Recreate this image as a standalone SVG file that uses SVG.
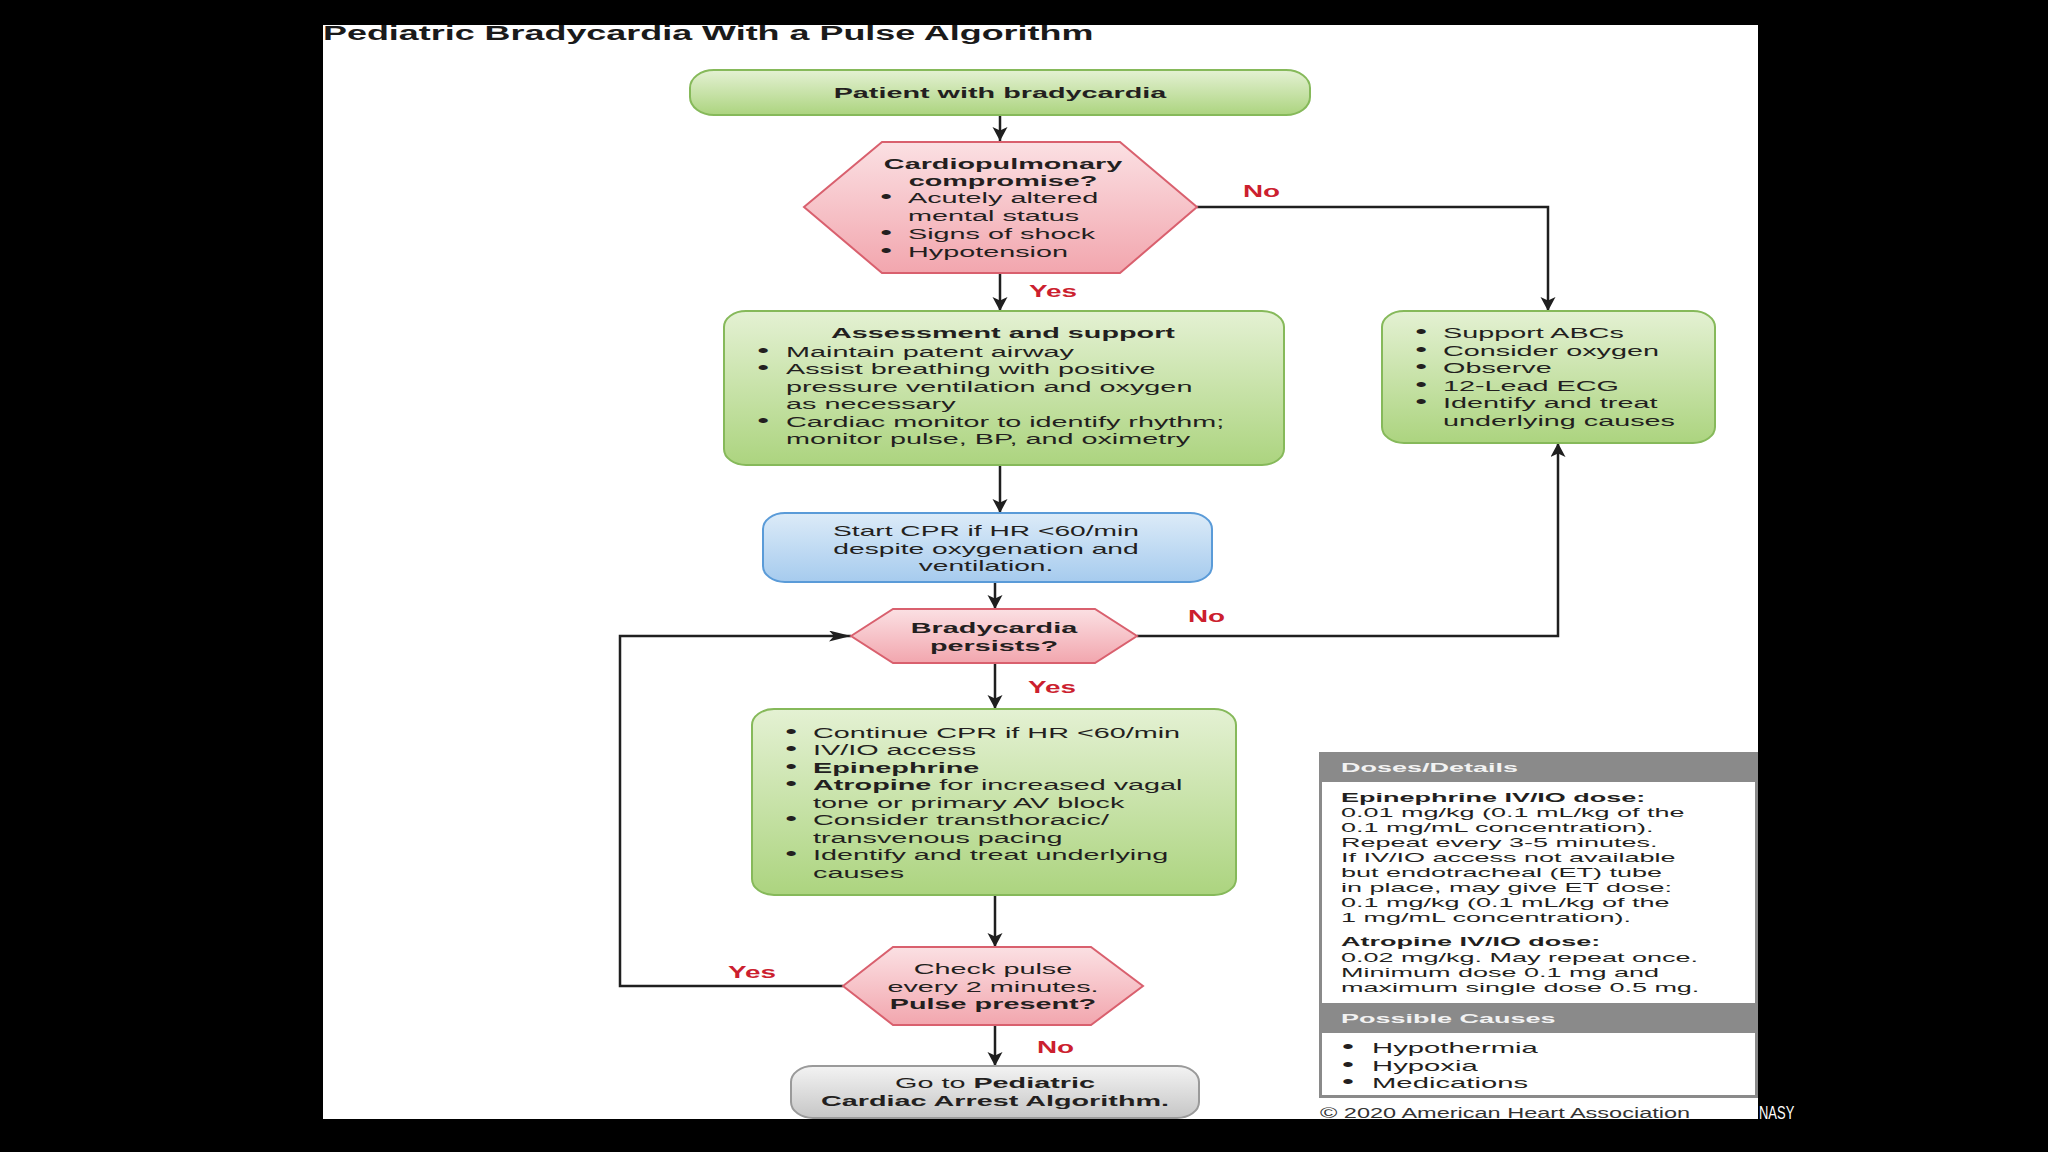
<svg xmlns="http://www.w3.org/2000/svg" width="2048" height="1152" viewBox="0 0 2048 1152">
<defs>
<linearGradient id="gGreen" x1="0" y1="0" x2="0" y2="1"><stop offset="0" stop-color="#e4f1d3"/><stop offset="1" stop-color="#acd47f"/></linearGradient>
<linearGradient id="gPink" x1="0" y1="0" x2="0" y2="1"><stop offset="0" stop-color="#fbe0e3"/><stop offset="1" stop-color="#f2a6ae"/></linearGradient>
<linearGradient id="gBlue" x1="0" y1="0" x2="0" y2="1"><stop offset="0" stop-color="#dcebf8"/><stop offset="1" stop-color="#a6cbee"/></linearGradient>
<linearGradient id="gGray" x1="0" y1="0" x2="0" y2="1"><stop offset="0" stop-color="#f3f3f3"/><stop offset="1" stop-color="#c6c6c6"/></linearGradient>
<marker id="aV" markerUnits="userSpaceOnUse" markerWidth="16" markerHeight="16" refX="14" refY="7.5" orient="auto"><path d="M0,0 L14,7.5 L0,15 L3.5,7.5 Z" fill="#1f1f1f"/></marker>
<marker id="aH" markerUnits="userSpaceOnUse" markerWidth="24" markerHeight="12" refX="22" refY="5.5" orient="auto"><path d="M0,0 L22,5.5 L0,11 L5,5.5 Z" fill="#1f1f1f"/></marker>
</defs>
<style>
.t{font-family:"Liberation Sans",Arial,sans-serif;font-size:15.4px;fill:#231f20}
.b{font-weight:bold}
.c{text-anchor:middle}
.d{font-size:13.3px}
.ttl{font-size:21px;font-weight:bold;fill:#1a1a1a}
.bt{font-size:18px}
.lab{font-family:"Liberation Sans",Arial,sans-serif;font-size:16px;font-weight:bold;fill:#cc1f2f}
.hdr{font-weight:bold;fill:#f2f2f2}
.green{fill:url(#gGreen);stroke:#86b95a;stroke-width:2}
.pink{fill:url(#gPink);stroke:#d9606e;stroke-width:2}
.blue{fill:url(#gBlue);stroke:#5a9bd8;stroke-width:2}
.gray{fill:url(#gGray);stroke:#9a9a9a;stroke-width:2}
.ln{fill:none;stroke:#1f1f1f;stroke-width:2.5}
</style>
<rect x="0" y="0" width="2048" height="1152" fill="#000"/>
<rect x="323" y="25" width="1435" height="1094" fill="#fff"/>
<g id="title" transform="translate(323 0) scale(1.71 1)"><text class="t ttl" x="0" y="40">Pediatric Bradycardia With a Pulse Algorithm</text></g>

<g id="connectors">
<line class="ln" x1="1000" y1="115" x2="1000" y2="141" marker-end="url(#aV)"/>
<line class="ln" x1="1000" y1="273" x2="1000" y2="311" marker-end="url(#aV)"/>
<polyline class="ln" points="1197,207 1548,207 1548,311" marker-end="url(#aV)"/>
<line class="ln" x1="1000" y1="465" x2="1000" y2="513" marker-end="url(#aV)"/>
<line class="ln" x1="995" y1="582" x2="995" y2="609" marker-end="url(#aV)"/>
<polyline class="ln" points="1137,636 1558,636 1558,443" marker-end="url(#aV)"/>
<line class="ln" x1="995" y1="663" x2="995" y2="709" marker-end="url(#aV)"/>
<line class="ln" x1="995" y1="895" x2="995" y2="947" marker-end="url(#aV)"/>
<polyline class="ln" points="843,986 620,986 620,636 851,636" marker-end="url(#aH)"/>
<line class="ln" x1="995" y1="1025" x2="995" y2="1066" marker-end="url(#aV)"/>
<g transform="translate(1029 0) scale(1.74 1)"><text class="lab" x="0" y="297">Yes</text></g>
<g transform="translate(1243 0) scale(1.74 1)"><text class="lab" x="0" y="197">No</text></g>
<g transform="translate(1188 0) scale(1.74 1)"><text class="lab" x="0" y="622">No</text></g>
<g transform="translate(1028 0) scale(1.74 1)"><text class="lab" x="0" y="693">Yes</text></g>
<g transform="translate(728 0) scale(1.74 1)"><text class="lab" x="0" y="978">Yes</text></g>
<g transform="translate(1037 0) scale(1.74 1)"><text class="lab" x="0" y="1053">No</text></g>
</g>

<g id="start">
<rect class="green" x="690" y="70" width="620" height="45" rx="24" ry="18"/>
<g transform="translate(1000 0) scale(1.87 1)"><text class="t b c" x="0" y="98">Patient with bradycardia</text></g>
</g>

<g id="compromise">
<polygon class="pink" points="804,207 882,142 1120,142 1197,207 1120,273 882,273"/>
<g transform="translate(1003 0) scale(1.87 1)">
<text class="t b c" x="0" y="169">Cardiopulmonary</text>
<text class="t b c" x="0" y="186">compromise?</text>
</g>
<g transform="translate(908 0) scale(1.87 1)">
<text class="t" x="0" y="203.5"><tspan class="bt" x="-14.9">•</tspan><tspan x="0">Acutely altered</tspan></text>
<text class="t" x="0" y="221.5">mental status</text>
<text class="t" x="0" y="239.5"><tspan class="bt" x="-14.9">•</tspan><tspan x="0">Signs of shock</tspan></text>
<text class="t" x="0" y="257.5"><tspan class="bt" x="-14.9">•</tspan><tspan x="0">Hypotension</tspan></text>
</g>
</g>

<g id="assessment">
<rect class="green" x="724" y="311" width="560" height="154" rx="22" ry="16"/>
<g transform="translate(1003 0) scale(1.87 1)"><text class="t b c" x="0" y="338">Assessment and support</text></g>
<g transform="translate(786 0) scale(1.87 1)">
<text class="t" x="0" y="357"><tspan class="bt" x="-15.4">•</tspan><tspan x="0">Maintain patent airway</tspan></text>
<text class="t" x="0" y="374.5"><tspan class="bt" x="-15.4">•</tspan><tspan x="0">Assist breathing with positive</tspan></text>
<text class="t" x="0" y="392">pressure ventilation and oxygen</text>
<text class="t" x="0" y="409.5">as necessary</text>
<text class="t" x="0" y="427"><tspan class="bt" x="-15.4">•</tspan><tspan x="0">Cardiac monitor to identify rhythm;</tspan></text>
<text class="t" x="0" y="444.5">monitor pulse, BP, and oximetry</text>
</g>
</g>

<g id="support">
<rect class="green" x="1382" y="311" width="333" height="132" rx="22" ry="16"/>
<g transform="translate(1443 0) scale(1.87 1)">
<text class="t" x="0" y="338"><tspan class="bt" x="-14.9">•</tspan><tspan x="0">Support ABCs</tspan></text>
<text class="t" x="0" y="356"><tspan class="bt" x="-14.9">•</tspan><tspan x="0">Consider oxygen</tspan></text>
<text class="t" x="0" y="373.5"><tspan class="bt" x="-14.9">•</tspan><tspan x="0">Observe</tspan></text>
<text class="t" x="0" y="391"><tspan class="bt" x="-14.9">•</tspan><tspan x="0">12-Lead ECG</tspan></text>
<text class="t" x="0" y="408.5"><tspan class="bt" x="-14.9">•</tspan><tspan x="0">Identify and treat</tspan></text>
<text class="t" x="0" y="426">underlying causes</text>
</g>
</g>

<g id="cpr">
<rect class="blue" x="763" y="513" width="449" height="69" rx="22" ry="16"/>
<g transform="translate(986 0) scale(1.83 1)">
<text class="t c" x="0" y="536">Start CPR if HR &lt;60/min</text>
<text class="t c" x="0" y="554">despite oxygenation and</text>
<text class="t c" x="0" y="571.5">ventilation.</text>
</g>
</g>

<g id="persists">
<polygon class="pink" points="851,636 893,609 1095,609 1137,636 1095,663 893,663"/>
<g transform="translate(994 0) scale(1.87 1)">
<text class="t b c" x="0" y="633">Bradycardia</text>
<text class="t b c" x="0" y="651">persists?</text>
</g>
</g>

<g id="treatment">
<rect class="green" x="752" y="709" width="484" height="186" rx="22" ry="16"/>
<g transform="translate(813 0) scale(1.87 1)">
<text class="t" x="0" y="738"><tspan class="bt" x="-14.9">•</tspan><tspan x="0">Continue CPR if HR &lt;60/min</tspan></text>
<text class="t" x="0" y="755.5"><tspan class="bt" x="-14.9">•</tspan><tspan x="0">IV/IO access</tspan></text>
<text class="t" x="0" y="773"><tspan class="bt" x="-14.9">•</tspan><tspan x="0" font-weight="bold">Epinephrine</tspan></text>
<text class="t" x="0" y="790.5"><tspan class="bt" x="-14.9">•</tspan><tspan x="0" font-weight="bold">Atropine</tspan><tspan> for increased vagal</tspan></text>
<text class="t" x="0" y="808">tone or primary AV block</text>
<text class="t" x="0" y="825.5"><tspan class="bt" x="-14.9">•</tspan><tspan x="0">Consider transthoracic/</tspan></text>
<text class="t" x="0" y="843">transvenous pacing</text>
<text class="t" x="0" y="860.5"><tspan class="bt" x="-14.9">•</tspan><tspan x="0">Identify and treat underlying</tspan></text>
<text class="t" x="0" y="878">causes</text>
</g>
</g>

<g id="pulse">
<polygon class="pink" points="843,986 893,947 1091,947 1143,986 1091,1025 893,1025"/>
<g transform="translate(993 0) scale(1.87 1)">
<text class="t c" x="0" y="974.5">Check pulse</text>
<text class="t c" x="0" y="992">every 2 minutes.</text>
<text class="t b c" x="0" y="1009.5">Pulse present?</text>
</g>
</g>

<g id="arrest">
<rect class="gray" x="791" y="1066" width="408" height="52" rx="22" ry="16"/>
<g transform="translate(995 0) scale(1.87 1)">
<text class="t c" x="0" y="1088">Go to <tspan font-weight="bold">Pediatric</tspan></text>
<text class="t b c" x="0" y="1106">Cardiac Arrest Algorithm.</text>
</g>
</g>

<g id="doses">
<rect x="1320.5" y="753.5" width="436" height="343" fill="#fff" stroke="#8a8a8a" stroke-width="3"/>
<rect x="1319" y="752" width="439" height="30" fill="#8a8a8a"/>
<rect x="1319" y="1003" width="439" height="30" fill="#8a8a8a"/>
<g transform="translate(1341 0) scale(2.03 1)">
<text class="t d hdr" x="0" y="772">Doses/Details</text>
<text class="t d b" x="0" y="802">Epinephrine IV/IO dose:</text>
<text class="t d" x="0" y="817">0.01 mg/kg (0.1 mL/kg of the</text>
<text class="t d" x="0" y="832">0.1 mg/mL concentration).</text>
<text class="t d" x="0" y="847">Repeat every 3-5 minutes.</text>
<text class="t d" x="0" y="862">If IV/IO access not available</text>
<text class="t d" x="0" y="877">but endotracheal (ET) tube</text>
<text class="t d" x="0" y="892">in place, may give ET dose:</text>
<text class="t d" x="0" y="907">0.1 mg/kg (0.1 mL/kg of the</text>
<text class="t d" x="0" y="922.5">1 mg/mL concentration).</text>
<text class="t d b" x="0" y="946">Atropine IV/IO dose:</text>
<text class="t d" x="0" y="962">0.02 mg/kg. May repeat once.</text>
<text class="t d" x="0" y="977">Minimum dose 0.1 mg and</text>
<text class="t d" x="0" y="992">maximum single dose 0.5 mg.</text>
<text class="t d hdr" x="0" y="1023">Possible Causes</text>
</g>
<g transform="translate(1372 0) scale(1.9 1)">
<text class="t" x="0" y="1053"><tspan class="bt" x="-15.8">•</tspan><tspan x="0">Hypothermia</tspan></text>
<text class="t" x="0" y="1071"><tspan class="bt" x="-15.8">•</tspan><tspan x="0">Hypoxia</tspan></text>
<text class="t" x="0" y="1088.5"><tspan class="bt" x="-15.8">•</tspan><tspan x="0">Medications</tspan></text>
</g>
</g>

<g id="footer">
<g transform="translate(1320 0) scale(1.68 1)"><text class="t" style="font-size:14px;fill:#333" x="0" y="1118">© 2020 American Heart Association</text></g>
<g transform="translate(1759 0) scale(0.72 1)"><text class="t" style="font-size:18px;fill:#fff" x="0" y="1119">NASY</text></g>
</g>
</svg>
